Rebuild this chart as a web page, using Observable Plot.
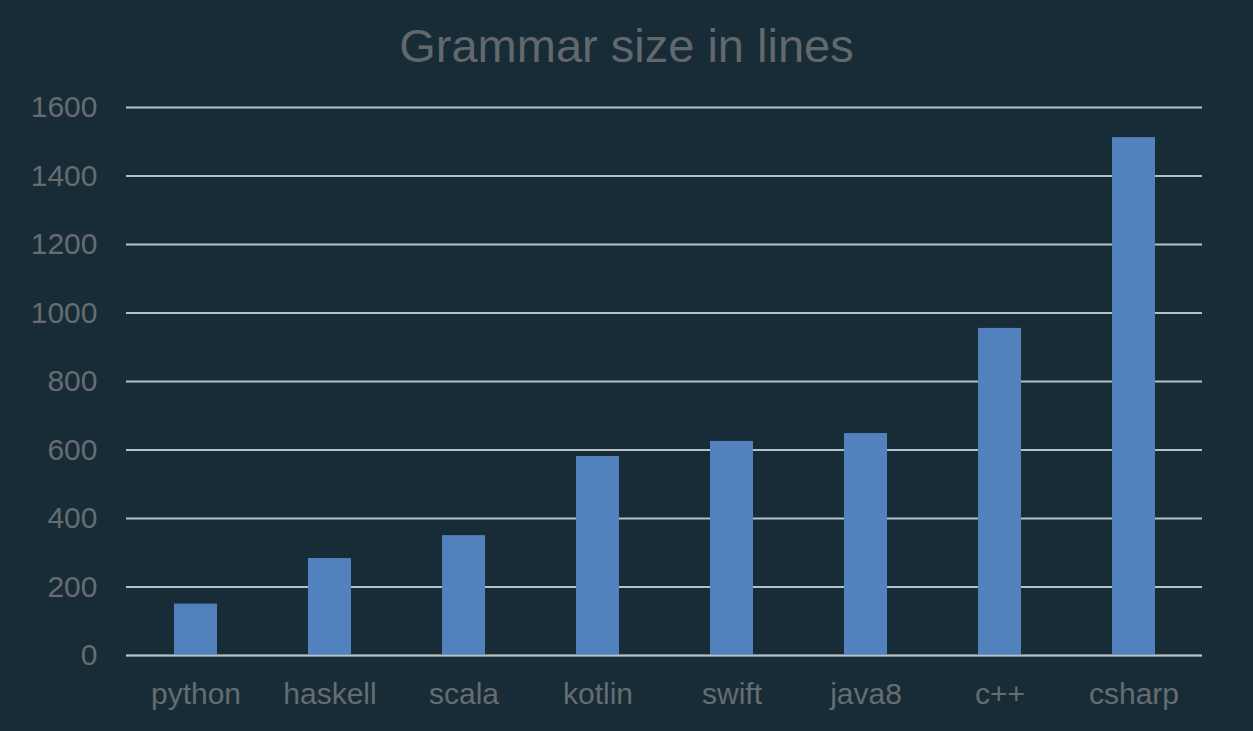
<!DOCTYPE html>
<html>
<head>
<meta charset="utf-8">
<script src="https://cdn.jsdelivr.net/npm/d3@7"></script>
<script src="https://cdn.jsdelivr.net/npm/@observablehq/plot@0.6"></script>
<style>
  html, body { margin: 0; padding: 0; background: #182c38; }
  body { width: 1253px; height: 731px; overflow: hidden; font-family: "Liberation Sans", Arial, sans-serif; }
  #title { height: 90px; line-height: 92px; text-align: center; font-size: 47px; color: #62686c; }
  #chart svg { display: block; }
</style>
</head>
<body>
<div id="title">Grammar size in lines</div>
<div id="chart"></div>
<script>
const languages = ["python", "haskell", "scala", "kotlin", "swift", "java8", "c++", "csharp"];
const lines = [150, 283, 350, 581, 625, 648, 955, 1512];
const yTicks = [0, 200, 400, 600, 800, 1000, 1200, 1400, 1600];

const data = languages.map((lang, i) => ({lang, value: lines[i]}));

const chart = Plot.plot({
  width: 1253,
  height: 641,
  marginTop: 17,
  marginBottom: 76,
  marginLeft: 126,
  marginRight: 51,
  style: {background: "transparent", fontFamily: "Liberation Sans, Arial, sans-serif"},
  x: {domain: languages, paddingInner: 0.68, paddingOuter: 0.34, label: null},
  y: {domain: [0, 1600], label: null},
  marks: [
    Plot.ruleY(yTicks, {stroke: "#b7c0c4", strokeWidth: 2.2, strokeOpacity: 1}),
    Plot.barY(data, {x: "lang", y: "value", fill: "#5282bd"}),
    Plot.ruleY([0], {stroke: "#b7c0c4", strokeWidth: 2.2, strokeOpacity: 0.6}),
    Plot.axisX({tickSize: 0, tickPadding: 27, fontSize: 30, color: "#666c70", label: null}),
    Plot.axisY({ticks: yTicks, tickSize: 0, tickPadding: 29, fontSize: 30, color: "#666c70", label: null, tickFormat: d => String(d)})
  ]
});
document.getElementById("chart").appendChild(chart);
</script>
</body>
</html>
